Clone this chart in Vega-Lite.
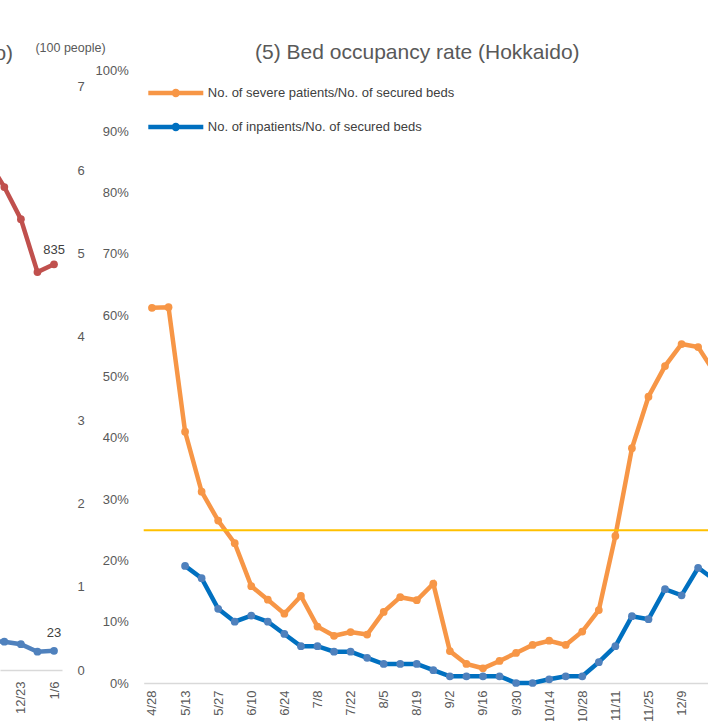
{
  "$schema": "https://vega.github.io/schema/vega-lite/v6.json",
  "autosize": {"type": "none"},
  "padding": {"left": 0, "top": 70, "right": 708, "bottom": 651},
  "background": "white",
  "config": {
    "view": {"stroke": null},
    "font": "Liberation Sans",
    "axis": {"labelFont": "Liberation Sans", "titleFont": "Liberation Sans"},
    "legend": {"labelFont": "Liberation Sans"},
    "title": {"font": "Liberation Sans"}
  },
  "datasets": {
    "inpatients_total": [
      {"date": "2020-12-09", "value": 1050},
      {"date": "2020-12-16", "value": 994},
      {"date": "2020-12-23", "value": 928},
      {"date": "2020-12-30", "value": 819},
      {"date": "2021-01-06", "value": 835, "label": "835"}
    ],
    "severe_total": [
      {"date": "2020-12-09", "value": 35},
      {"date": "2020-12-16", "value": 34},
      {"date": "2020-12-23", "value": 31},
      {"date": "2020-12-30", "value": 22},
      {"date": "2021-01-06", "value": 23, "label": "23"}
    ],
    "beds": [
      {"date": "4/28", "series": "No. of severe patients/No. of secured beds", "value": 0.612},
      {"date": "5/6", "series": "No. of severe patients/No. of secured beds", "value": 0.613},
      {"date": "5/13", "series": "No. of severe patients/No. of secured beds", "value": 0.41},
      {"date": "5/20", "series": "No. of severe patients/No. of secured beds", "value": 0.312},
      {"date": "5/27", "series": "No. of severe patients/No. of secured beds", "value": 0.265},
      {"date": "6/3", "series": "No. of severe patients/No. of secured beds", "value": 0.228},
      {"date": "6/10", "series": "No. of severe patients/No. of secured beds", "value": 0.158},
      {"date": "6/17", "series": "No. of severe patients/No. of secured beds", "value": 0.136},
      {"date": "6/24", "series": "No. of severe patients/No. of secured beds", "value": 0.113},
      {"date": "7/1", "series": "No. of severe patients/No. of secured beds", "value": 0.142},
      {"date": "7/8", "series": "No. of severe patients/No. of secured beds", "value": 0.092},
      {"date": "7/15", "series": "No. of severe patients/No. of secured beds", "value": 0.077},
      {"date": "7/22", "series": "No. of severe patients/No. of secured beds", "value": 0.083},
      {"date": "7/29", "series": "No. of severe patients/No. of secured beds", "value": 0.079},
      {"date": "8/5", "series": "No. of severe patients/No. of secured beds", "value": 0.116},
      {"date": "8/12", "series": "No. of severe patients/No. of secured beds", "value": 0.14},
      {"date": "8/19", "series": "No. of severe patients/No. of secured beds", "value": 0.135},
      {"date": "8/26", "series": "No. of severe patients/No. of secured beds", "value": 0.162},
      {"date": "9/2", "series": "No. of severe patients/No. of secured beds", "value": 0.052},
      {"date": "9/9", "series": "No. of severe patients/No. of secured beds", "value": 0.031},
      {"date": "9/16", "series": "No. of severe patients/No. of secured beds", "value": 0.024},
      {"date": "9/23", "series": "No. of severe patients/No. of secured beds", "value": 0.036},
      {"date": "9/30", "series": "No. of severe patients/No. of secured beds", "value": 0.049},
      {"date": "10/7", "series": "No. of severe patients/No. of secured beds", "value": 0.062},
      {"date": "10/14", "series": "No. of severe patients/No. of secured beds", "value": 0.069},
      {"date": "10/21", "series": "No. of severe patients/No. of secured beds", "value": 0.062},
      {"date": "10/28", "series": "No. of severe patients/No. of secured beds", "value": 0.084},
      {"date": "11/4", "series": "No. of severe patients/No. of secured beds", "value": 0.119},
      {"date": "11/11", "series": "No. of severe patients/No. of secured beds", "value": 0.24},
      {"date": "11/18", "series": "No. of severe patients/No. of secured beds", "value": 0.383},
      {"date": "11/25", "series": "No. of severe patients/No. of secured beds", "value": 0.467},
      {"date": "12/2", "series": "No. of severe patients/No. of secured beds", "value": 0.517},
      {"date": "12/9", "series": "No. of severe patients/No. of secured beds", "value": 0.553},
      {"date": "12/16", "series": "No. of severe patients/No. of secured beds", "value": 0.548},
      {"date": "12/23", "series": "No. of severe patients/No. of secured beds", "value": 0.506},
      {"date": "5/13", "series": "No. of inpatients/No. of secured beds", "value": 0.191},
      {"date": "5/20", "series": "No. of inpatients/No. of secured beds", "value": 0.171},
      {"date": "5/27", "series": "No. of inpatients/No. of secured beds", "value": 0.121},
      {"date": "6/3", "series": "No. of inpatients/No. of secured beds", "value": 0.1},
      {"date": "6/10", "series": "No. of inpatients/No. of secured beds", "value": 0.11},
      {"date": "6/17", "series": "No. of inpatients/No. of secured beds", "value": 0.1},
      {"date": "6/24", "series": "No. of inpatients/No. of secured beds", "value": 0.08},
      {"date": "7/1", "series": "No. of inpatients/No. of secured beds", "value": 0.06},
      {"date": "7/8", "series": "No. of inpatients/No. of secured beds", "value": 0.06},
      {"date": "7/15", "series": "No. of inpatients/No. of secured beds", "value": 0.051},
      {"date": "7/22", "series": "No. of inpatients/No. of secured beds", "value": 0.051},
      {"date": "7/29", "series": "No. of inpatients/No. of secured beds", "value": 0.041},
      {"date": "8/5", "series": "No. of inpatients/No. of secured beds", "value": 0.031},
      {"date": "8/12", "series": "No. of inpatients/No. of secured beds", "value": 0.031},
      {"date": "8/19", "series": "No. of inpatients/No. of secured beds", "value": 0.031},
      {"date": "8/26", "series": "No. of inpatients/No. of secured beds", "value": 0.021},
      {"date": "9/2", "series": "No. of inpatients/No. of secured beds", "value": 0.011},
      {"date": "9/9", "series": "No. of inpatients/No. of secured beds", "value": 0.011},
      {"date": "9/16", "series": "No. of inpatients/No. of secured beds", "value": 0.011},
      {"date": "9/23", "series": "No. of inpatients/No. of secured beds", "value": 0.011},
      {"date": "9/30", "series": "No. of inpatients/No. of secured beds", "value": 0.0},
      {"date": "10/7", "series": "No. of inpatients/No. of secured beds", "value": 0.0},
      {"date": "10/14", "series": "No. of inpatients/No. of secured beds", "value": 0.006},
      {"date": "10/21", "series": "No. of inpatients/No. of secured beds", "value": 0.011},
      {"date": "10/28", "series": "No. of inpatients/No. of secured beds", "value": 0.011},
      {"date": "11/4", "series": "No. of inpatients/No. of secured beds", "value": 0.034},
      {"date": "11/11", "series": "No. of inpatients/No. of secured beds", "value": 0.06},
      {"date": "11/18", "series": "No. of inpatients/No. of secured beds", "value": 0.109},
      {"date": "11/25", "series": "No. of inpatients/No. of secured beds", "value": 0.104},
      {"date": "12/2", "series": "No. of inpatients/No. of secured beds", "value": 0.153},
      {"date": "12/9", "series": "No. of inpatients/No. of secured beds", "value": 0.143},
      {"date": "12/16", "series": "No. of inpatients/No. of secured beds", "value": 0.188},
      {"date": "12/23", "series": "No. of inpatients/No. of secured beds", "value": 0.168}
    ],
    "threshold": [{"level": 0.249}]
  },
  "bounds": "flush",
  "spacing": 81.7,
  "hconcat": [
    {
      "width": 62,
      "height": 600,
      "title": {"text": "(4) No. of inpatients and severe patients (Hokkaido)", "anchor": "end", "dx": -92, "dy": 31, "fontSize": 21, "fontWeight": "normal", "color": "#595959", "offset": 8},
      "resolve": {"scale": {"y": "independent"}},
      "layer": [
        {
          "data": {"name": "inpatients_total"},
          "encoding": {
            "x": {"field": "date", "type": "temporal",
              "scale": {"type": "utc", "domain": [{"year": 2020, "month": 12, "date": 14, "hours": 4, "utc": true}, {"year": 2021, "month": 1, "date": 9, "hours": 9, "utc": true}]},
              "axis": {"values": [{"year": 2020, "month": 12, "date": 23, "utc": true}, {"year": 2021, "month": 1, "date": 6, "utc": true}], "format": "%-m/%-d", "labelAngle": 270, "labelFontSize": 13, "labelColor": "#595959", "ticks": false, "grid": false, "domainColor": "#D9D9D9", "domainWidth": 1.5, "labelPadding": 11, "title": null}},
            "y": {"field": "value", "type": "quantitative", "scale": {"domain": [0, 1235], "nice": false}, "axis": null}
          },
          "layer": [
            {"mark": {"type": "line", "color": "#C0504D", "strokeWidth": 4.5, "clip": true}},
            {"mark": {"type": "point", "filled": true, "color": "#C0504D", "size": 60, "opacity": 1, "clip": true}},
            {"transform": [{"filter": {"field": "label", "valid": true}}],
             "mark": {"type": "text", "dy": -14, "fontSize": 13, "color": "#404040"},
             "encoding": {"text": {"field": "label"}}}
          ]
        },
        {
          "data": {"name": "severe_total"},
          "encoding": {
            "x": {"field": "date", "type": "temporal"},
            "y": {"field": "value", "type": "quantitative", "scale": {"domain": [0, 720.4], "nice": false},
              "axis": {"orient": "right", "values": [0, 100, 200, 300, 400, 500, 600, 700], "labelExpr": "datum.value / 100", "title": "(100 people)", "titleAngle": 0, "titleX": 8, "titleY": -23, "titleAlign": "center", "titleBaseline": "middle", "titleFontSize": 12.5, "titleFontWeight": "normal", "titleColor": "#595959", "domain": false, "ticks": false, "grid": false, "labelPadding": 15, "labelFontSize": 13, "labelColor": "#595959"}}
          },
          "layer": [
            {"mark": {"type": "line", "color": "#4F81BD", "strokeWidth": 4.5, "clip": true}},
            {"mark": {"type": "point", "filled": true, "color": "#4F81BD", "size": 60, "opacity": 1, "clip": true}},
            {"transform": [{"filter": {"field": "label", "valid": true}}],
             "mark": {"type": "text", "dy": -18, "fontSize": 13, "color": "#404040"},
             "encoding": {"text": {"field": "label"}}}
          ]
        }
      ]
    },
    {
      "width": 579.25,
      "height": 613,
      "title": {"text": "(5) Bed occupancy rate (Hokkaido)", "anchor": "middle", "dx": -16, "dy": 7, "fontSize": 21, "fontWeight": "normal", "color": "#595959", "offset": 8},
      "layer": [
        {
          "data": {"name": "beds"},
          "encoding": {
            "x": {"field": "date", "type": "ordinal", "sort": null, "scale": {"type": "point", "padding": 0.5},
              "axis": {"values": ["4/28", "5/13", "5/27", "6/10", "6/24", "7/8", "7/22", "8/5", "8/19", "9/2", "9/16", "9/30", "10/14", "10/28", "11/11", "11/25", "12/9"], "labelAngle": 270, "labelFontSize": 13, "labelColor": "#595959", "ticks": false, "grid": false, "domainColor": "#D9D9D9", "domainWidth": 1.5, "labelPadding": 7, "title": null}},
            "y": {"field": "value", "type": "quantitative", "scale": {"domain": [0, 1], "nice": false},
              "axis": {"values": [0, 0.1, 0.2, 0.3, 0.4, 0.5, 0.6, 0.7, 0.8, 0.9, 1], "format": ".0%", "grid": false, "domain": false, "ticks": false, "labelPadding": 15.5, "labelFontSize": 13, "labelColor": "#595959", "title": null}}
          },
          "layer": [
            {"mark": {"type": "line", "strokeWidth": 4.5},
             "encoding": {"color": {"field": "series", "type": "nominal",
               "scale": {"domain": ["No. of severe patients/No. of secured beds", "No. of inpatients/No. of secured beds"], "range": ["#F79646", "#0070C0"]},
               "legend": {"orient": "none", "legendX": 167.8, "legendY": 15, "title": null, "padding": 0, "symbolType": "M-5,0H5M0.35,0A0.35,0.35 0 1,1 -0.35,0A0.35,0.35 0 1,1 0.35,0", "symbolSize": 121, "symbolStrokeWidth": 4.5, "labelFontSize": 13, "labelColor": "#404040", "labelOffset": 24, "labelLimit": 400, "rowPadding": 12}}}},
            {"mark": {"type": "point", "filled": true, "size": 60, "opacity": 1},
             "encoding": {"fill": {"field": "series", "type": "nominal",
               "scale": {"domain": ["No. of severe patients/No. of secured beds", "No. of inpatients/No. of secured beds"], "range": ["#F79646", "#4F81BD"]},
               "legend": null}}}
          ]
        },
        {
          "data": {"name": "threshold"},
          "mark": {"type": "rule", "color": "#FFC000", "strokeWidth": 2},
          "encoding": {"y": {"field": "level", "type": "quantitative"}}
        }
      ]
    }
  ]
}
